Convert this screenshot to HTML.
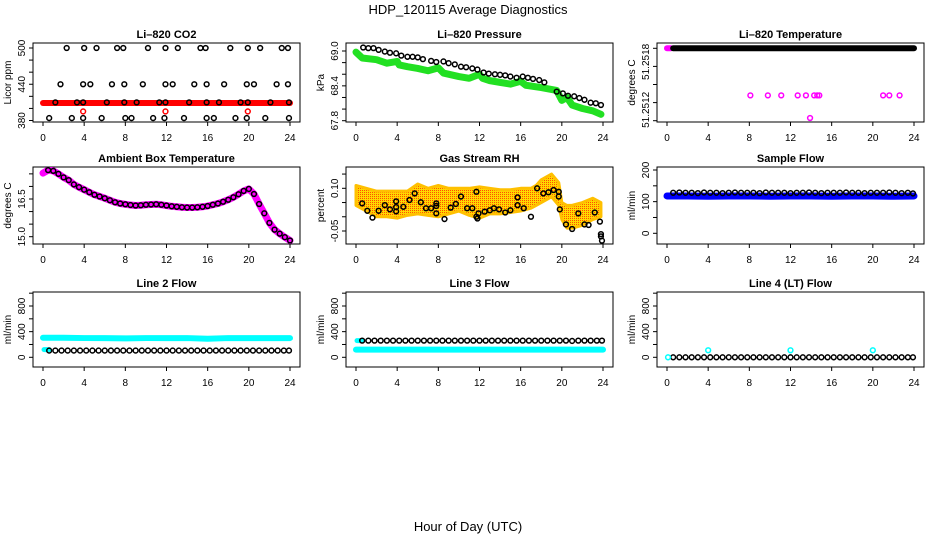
<!DOCTYPE html>
<html><head><meta charset="utf-8"><style>
html,body{margin:0;padding:0;background:#fff;}
svg{display:block;font-family:"Liberation Sans",sans-serif;}
</style></head><body>
<svg id="c" width="936" height="540" viewBox="0 0 936 540" xmlns="http://www.w3.org/2000/svg">
<defs>
<pattern id="rhpat" width="2" height="2" patternUnits="userSpaceOnUse">
<rect width="2" height="2" fill="#ffd800"/><rect width="1" height="1" fill="#ff5000"/>
</pattern>
</defs>
<text x="468" y="14" text-anchor="middle" font-size="13">HDP_120115  Average Diagnostics</text>
<text x="468" y="531" text-anchor="middle" font-size="13">Hour of Day (UTC)</text>
</svg>
<script>
// ---------- data ----------
const xTicks=[0,4,8,12,16,20,24];
const co2Hours=[2.3,4.0,5.2,7.2,7.8,10.2,11.9,13.1,15.3,15.8,18.2,19.9,21.1,23.2,23.8, 1.7,3.9,4.6,6.7,7.9,9.7,11.9,12.6,14.7,15.9,17.6,19.8,20.5,22.7,23.8, 1.2,3.3,3.9,6.2,7.9,9.1,11.3,11.9,14.2,15.9,17.1,19.2,19.9,22.1,23.9, 0.6,2.8,3.9,5.7,8.0,8.6,10.7,11.8,13.7,15.9,16.6,18.7,19.8,21.6,23.9];
const co2Values=[500,500,500,500,500,500,500,500,500,500,500,500,500,500,500, 440,440,440,440,440,440,440,440,440,440,440,440,440,440,440, 410,410,410,410,410,410,410,410,410,410,410,410,410,410,410, 384,384,384,384,384,384,384,384,384,384,384,384,384,384,384];
const co2RedHours=[3.9,11.9,19.9];
const co2RedValues=[395,395,395];
const co2BandHours=[0,4,8,12,16,20,24];
const co2BandValues=[409,409,409,409,409,409,409];
const co2Ticks=[380,400,420,440,460,480,500];
const co2Labels=[380,440,500];

const presHours=[0.7,1.2,1.7,2.2,2.8,3.3,3.9,4.4,5,5.5,6,6.5,7.3,7.8,8.5,9,9.6,10.2,10.7,11.3,11.8,12.4,12.9,13.5,14,14.5,15,15.6,16.2,16.7,17.2,17.8,18.3,19.5,20.1,20.6,21.2,21.7,22.2,22.8,23.3,23.8];
const presValues=[69.06,69.05,69.05,69.02,68.99,68.97,68.96,68.92,68.90,68.90,68.89,68.86,68.83,68.81,68.82,68.79,68.77,68.73,68.72,68.70,68.68,68.63,68.61,68.60,68.59,68.58,68.56,68.54,68.56,68.54,68.52,68.50,68.46,68.30,68.27,68.23,68.22,68.19,68.16,68.11,68.10,68.07];
const presGreenHours=[0,0.6,2,3,4,4.2,5,6,7,8,8.5,10,11,12,12.3,13,14,15,16,16.5,18,19.5,20,20.5,21,22,23,23.8];
const presGreenValues=[68.98,68.88,68.85,68.79,68.82,68.76,68.73,68.70,68.66,68.71,68.62,68.56,68.53,68.60,68.53,68.49,68.46,68.43,68.48,68.41,68.37,68.32,68.15,68.20,68.07,68.01,67.97,67.91];
const presTicks=[67.8,68.0,68.2,68.4,68.6,68.8,69.0];
const presLabels=[67.8,68.4,69.0];

const tempTop=51.2518;
const tempBandHours=[0.6,24];
const tempMagHours=[8.1,9.8,11.1,12.7,13.5,14.3,14.6,14.8,21.0,21.6,22.6];
const tempMagValues=[51.25128,51.25128,51.25128,51.25128,51.25128,51.25128,51.25128,51.25128,51.25128,51.25128,51.25128];
const tempLowHours=[13.9];
const tempLowValues=[51.25103];
const tempTicks=[51.2510,51.2512,51.2514,51.2516,51.2518];

const ambHours=[0,0.5,1,1.5,2,2.5,3,3.5,4,4.5,5,5.5,6,6.5,7,7.5,8,8.5,9,9.5,10,10.5,11,11.5,12,12.5,13,13.5,14,14.5,15,15.5,16,16.5,17,17.5,18,18.5,19,19.5,20,20.5,21,21.5,22,22.5,23,23.5,24];
const ambValues=[17.53,17.65,17.62,17.5,17.36,17.25,17.08,16.97,16.87,16.77,16.67,16.6,16.53,16.45,16.37,16.32,16.29,16.26,16.24,16.25,16.27,16.28,16.29,16.27,16.24,16.21,16.19,16.17,16.16,16.16,16.17,16.19,16.22,16.27,16.32,16.39,16.47,16.57,16.69,16.82,16.9,16.7,16.3,15.93,15.55,15.28,15.12,14.98,14.85];
const ambTicks=[15.0,15.5,16.0,16.5,17.0,17.5];
const ambLabels=[15.0,16.5];

const rhHours=[0.6,1.1,1.6,2.2,2.8,3.3,3.9,3.9,3.9,4.6,5.2,5.7,6.3,6.8,7.3,7.8,7.8,7.8,8.6,9.2,9.7,10.2,10.8,11.3,11.7,11.7,11.8,11.9,12.5,13,13.4,13.9,14.5,15,15.7,15.7,16.3,17,17.6,18.2,18.7,19.2,19.7,19.7,19.8,20.4,21.0,21.6,22.2,22.6,23.2,23.7,23.8,23.8,23.9];
const rhValues=[0.047,0.021,-0.003,0.021,0.041,0.026,0.054,0.034,0.019,0.035,0.059,0.082,0.051,0.030,0.030,0.047,0.038,0.012,-0.008,0.032,0.045,0.071,0.030,0.030,0.088,0.000,-0.006,0.012,0.018,0.023,0.030,0.026,0.015,0.023,0.041,0.068,0.030,0.000,0.100,0.082,0.086,0.094,0.088,0.071,0.026,-0.027,-0.043,0.012,-0.027,-0.029,0.015,-0.017,-0.061,-0.069,-0.084];
const rhEnvHours=[0,1,2,3,4,5,6,7,8,9,10,11,12,13,14,15,16,17,17.5,18,19,19.7,20,20.5,21,22,23,23.8];
const rhLower=[0.04,0.02,0.0,0.0,-0.005,0.005,0.01,0.005,0.0,0.01,0.02,0.005,-0.005,0.01,0.01,0.015,0.02,0.03,0.04,0.05,0.07,0.04,-0.01,-0.04,-0.04,-0.03,-0.01,0.0];
const rhUpper=[0.11,0.10,0.09,0.09,0.09,0.09,0.115,0.10,0.11,0.10,0.10,0.10,0.105,0.10,0.095,0.095,0.10,0.10,0.11,0.13,0.15,0.12,0.05,0.04,0.04,0.05,0.065,0.05];
const rhTicks=[-0.05,0,0.05,0.10,0.15];
const rhLabels=["-0.05","0.10"];

const sampleBlack=[128,129,128,128,127,129,128,128,127,128,129,128,128,128,127,129,128,128,128,127,128,128,129,128,127,128,128,128,129,128,128,127,128,128,128,129,128,127,128,126];
const sampleBlue=[118,118,117,118,118,117,118,118,117,118,118,117,118];
const sampleTicks=[0,50,100,150,200];
const sampleLabels=[0,100,200];

const line2Black=[105,105,105,105,105,105,105,105,105,105,105,105,105,105,105,105,105,105,105,105,105,105,105,105,105,105,105,105,105,105,105,105,105,105,105,105,105,105,105,105];
const line2Cyan=[305,305,300,300,295,300,300,300,290,300,300,300,300];
const line3Black=[260,260,260,260,260,260,260,260,260,260,260,260,260,260,260,260,260,260,260,260,260,260,260,260,260,260,260,260,260,260,260,260,260,260,255,260,260,260,260,260];
const line3Cyan=[120,120,120,120,120,120,120,120,120,120,120,120,120];
const line4Black=[0,0,0,0,0,0,0,0,0,0,0,0,0,0,0,0,0,0,0,0,0,0,0,0,0,0,0,0,0,0,0,0,0,0,0,0,0,0,0,0];
const line4CyanHours=[0.1,4,12,20];
const line4CyanValues=[0,110,110,110];
const flowTicks=[0,200,400,600,800,1000];
const flowLabels=[0,400,800];
const denseHours=[0.6,1.2,1.8,2.4,3.0,3.6,4.2,4.8,5.4,6.0,6.6,7.2,7.8,8.4,9.0,9.6,10.2,10.8,11.4,12.0,12.6,13.2,13.8,14.4,15.0,15.6,16.2,16.8,17.4,18.0,18.6,19.2,19.8,20.4,21.0,21.6,22.2,22.8,23.4,23.9];
const bandHours=[0,2,4,6,8,10,12,14,16,18,20,22,24];

// ---------- drawing ----------
const svg=document.getElementById('c');
const NS='http://www.w3.org/2000/svg';
function mk(tag,attrs,parent){const e=document.createElementNS(NS,tag);for(const k in attrs)e.setAttribute(k,attrs[k]);(parent||svg).appendChild(e);return e;}
const colL=[33,346,657], W=267, rowT=[43,167,292], rowB=[122,244,367];

function panel(col,row,title,ylab,r1v,r1p,r2v,r2p,name){
  const L=colL[col],T=rowT[row],B=rowB[row];
  const g=mk('g',{});
  
  
  const X=h=>L+10+h*247/24;
  const Y=v=>r1p+(v-r1v)*(r2p-r1p)/(r2v-r1v);
  const box=mk('rect',{x:L,y:T,width:W,height:B-T,fill:'none',stroke:'#000','stroke-width':1},g);
  
  
  const t=mk('text',{x:L+W/2,y:T-5,'text-anchor':'middle','font-size':11,'font-weight':'bold'},g);
  t.textContent=title;
  
  
  const yl=mk('text',{transform:`translate(${L-22},${(T+B)/2}) rotate(-90)`,'text-anchor':'middle','font-size':10},g);
  yl.textContent=ylab;
  
  
  xTicks.forEach(h=>{
    mk('line',{x1:X(h),x2:X(h),y1:B,y2:B+4,stroke:'#000'},g);
    const tl=mk('text',{x:X(h),y:B+19,'text-anchor':'middle','font-size':10},g);
    tl.textContent=h;
    
    
  });
  const clipId='clip'+col+row;
  const cp=mk('clipPath',{id:clipId},g);mk('rect',{x:L,y:T,width:W,height:B-T},cp);
  const plot=mk('g',{'clip-path':`url(#${clipId})`},g);
  
  
  return {L,T,B,X,Y,g,plot};
}
function yAxis(p,ticks,labels,fmt){
  ticks.forEach(v=>mk('line',{x1:p.L,x2:p.L-4,y1:p.Y(v),y2:p.Y(v),stroke:'#000'},p.g));
  labels.forEach((v,i)=>{
    const vv=typeof v==='string'?parseFloat(v):v;
    const tl=mk('text',{transform:`translate(${p.L-8},${p.Y(vv)}) rotate(-90)`,'text-anchor':'middle','font-size':10},p.g);
    tl.textContent=fmt?fmt(v):v;
    
    
  });
}
function circles(p,hs,vs,color,name){
  hs.forEach((h,i)=>{
    const c=mk('circle',{cx:p.X(h),cy:p.Y(vs[i]),r:2.4,fill:'none',stroke:color,'stroke-width':1.5},p.plot);
    
    
  });
}
function band(p,hs,vs,color,w,name){
  const pl=mk('polyline',{points:hs.map((h,i)=>p.X(h)+','+p.Y(vs[i])).join(' '),fill:'none',stroke:color,'stroke-width':w,'stroke-linejoin':'round','stroke-linecap':'round'},p.plot);
  
  
}

// P1 CO2
let p=panel(0,0,'Li\u2013820 CO2','Licor ppm',500,48,380,120.5,'co2');
yAxis(p,co2Ticks,co2Labels);
band(p,co2BandHours,co2BandValues,'#ff0000',6,'co2-red-band');
circles(p,co2Hours,co2Values,'#000','co2-point');
circles(p,co2RedHours,co2RedValues,'#ff0000','co2-red-point');

// P2 Pressure
p=panel(1,0,'Li\u2013820 Pressure','kPa',69.0,51,67.8,120.7,'pressure');
yAxis(p,presTicks,presLabels,v=>v.toFixed(1));
band(p,presGreenHours,presGreenValues,'#22e022',7,'pressure-green-band');
circles(p,presHours,presValues,'#000','pressure-point');

// P3 Temperature
p=panel(2,0,'Li\u2013820 Temperature','degrees C',51.2518,48.3,51.2510,120.7,'temperature');
tempTicks.forEach(v=>mk('line',{x1:p.L,x2:p.L-4,y1:p.Y(v),y2:p.Y(v),stroke:'#000'},p.g));
[["51.2518",51.25165],["51.2512",51.25112]].forEach(a=>{
  const tl=mk('text',{transform:`translate(${p.L-8},${p.Y(a[1])}) rotate(-90)`,'text-anchor':'middle','font-size':10},p.g);
  tl.textContent=a[0];
  
  
});
band(p,[0,0.4],[tempTop,tempTop],'#ff00ff',6,'temperature-magenta-band');
band(p,tempBandHours,[tempTop,tempTop],'#000',6,'temperature-black-band');
circles(p,tempMagHours,tempMagValues,'#ff00ff','temperature-magenta-point');
circles(p,tempLowHours,tempLowValues,'#ff00ff','temperature-low-point');

// P4 Ambient
p=panel(0,1,'Ambient Box Temperature','degrees C',15.0,236.7,16.5,199,'ambient');
yAxis(p,ambTicks,ambLabels,v=>v.toFixed(1));
band(p,ambHours,ambValues,'#ff00ff',7,'ambient-magenta-band');
circles(p,ambHours.slice(1),ambValues.slice(1),'#000','ambient-point');

// P5 RH
p=panel(1,1,'Gas Stream RH','percent',0.10,188.3,-0.05,231,'rh');
yAxis(p,rhTicks,rhLabels);
const env=rhEnvHours.map((h,i)=>p.X(h)+','+p.Y(rhUpper[i])).concat(rhEnvHours.slice().reverse().map((h,i)=>p.X(h)+','+p.Y(rhLower[rhLower.length-1-i])));
const poly=mk('polygon',{points:env.join(' '),fill:'url(#rhpat)',stroke:'#ffc000','stroke-width':3,'stroke-linejoin':'round'},p.plot);


circles(p,rhHours,rhValues,'#000','rh-point');

// P6 Sample Flow
p=panel(2,1,'Sample Flow','ml/min',200,170,0,233.3,'sample-flow');
yAxis(p,sampleTicks,sampleLabels);
band(p,bandHours,sampleBlue,'#0000ff',7,'sample-flow-blue-band');
circles(p,denseHours,sampleBlack,'#000','sample-flow-point');

// P7 Line 2
p=panel(0,2,'Line 2 Flow','ml/min',0,357.3,800,306,'line2');
yAxis(p,flowTicks,flowLabels);
band(p,bandHours,line2Cyan,'#00ffff',6,'line2-cyan-band');
band(p,[0.1,0.6],[120,120],'#00ffff',5,'line2-cyan-start');
circles(p,denseHours,line2Black,'#000','line2-point');

// P8 Line 3
p=panel(1,2,'Line 3 Flow','ml/min',0,357.3,800,306,'line3');
yAxis(p,flowTicks,flowLabels);
band(p,bandHours,line3Cyan,'#00ffff',6,'line3-cyan-band');
band(p,[0.1,0.6],[260,260],'#00ffff',5,'line3-cyan-start');
circles(p,denseHours,line3Black,'#000','line3-point');

// P9 Line 4
p=panel(2,2,'Line 4 (LT) Flow','ml/min',0,357.3,800,306,'line4');
yAxis(p,flowTicks,flowLabels);
circles(p,denseHours,line4Black,'#000','line4-point');
circles(p,line4CyanHours,line4CyanValues,'#00ffff','line4-cyan-point');
</script>
</body></html>
